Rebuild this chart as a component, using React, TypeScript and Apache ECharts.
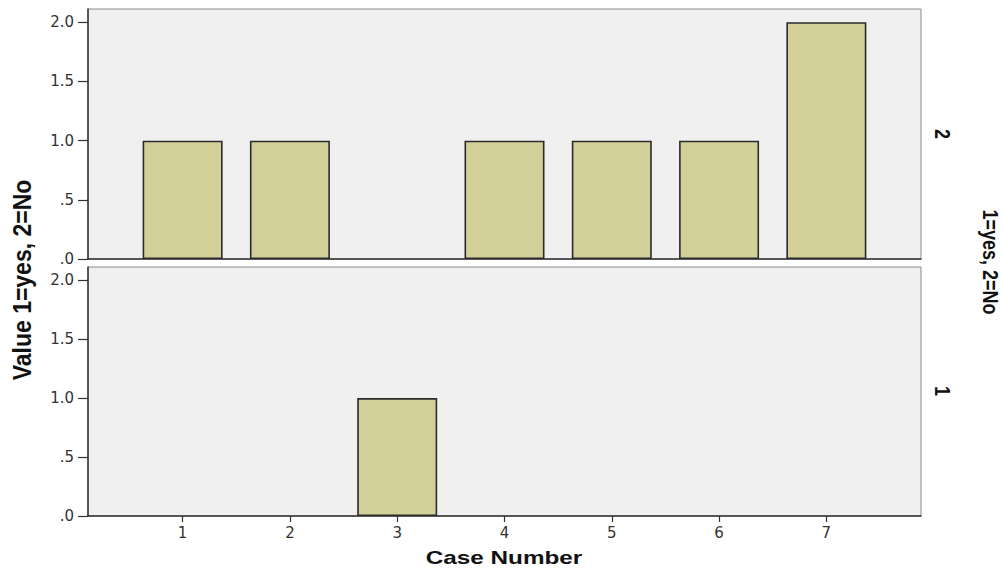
import React, { useEffect, useRef } from "react";
import * as echarts from "echarts";

const caseNumbers = [1, 2, 3, 4, 5, 6, 7];
const panel2Values: (number | null)[] = [1, 1, null, 1, 1, 1, 2];
const panel1Values: (number | null)[] = [null, null, 1, null, null, null, null];
const panelLabels = ["2", "1"];
const yTickValues = [0, 0.5, 1, 1.5, 2];
const yTickLabels = [".0", ".5", "1.0", "1.5", "2.0"];
const xTickValues = [1, 2, 3, 4, 5, 6, 7];
const yAxisTitle = "Value 1=yes, 2=No";
const panelTitle = "1=yes, 2=No";
const xAxisTitle = "Case Number";

const Y_MAX = 2.112;
const X_MIN = 0.118;
const X_MAX = 7.882;

function toPairs(vals: (number | null)[]) {
  const out: [number, number][] = [];
  caseNumbers.forEach((c, i) => {
    const v = vals[i];
    if (v !== null && v !== undefined) out.push([c, v]);
  });
  return out;
}

export default function App() {
  const ref = useRef<HTMLDivElement>(null);
  useEffect(() => {
    if (!ref.current) return;
    const chart = echarts.init(ref.current, null, { renderer: "svg" });
    const labelFont = { fontFamily: "DejaVu Sans", fontSize: 15, color: "#333" };
    const yAxisBase = (gi: number) => ({
      type: "value",
      gridIndex: gi,
      min: 0,
      max: Y_MAX,
      splitLine: { show: false },
      axisLine: { show: true, lineStyle: { color: "#333", width: 1.5 } },
      axisTick: {
        show: true,
        length: 10,
        customValues: yTickValues,
        lineStyle: { color: "#333", width: 1.2 },
      },
      axisLabel: {
        ...labelFont,
        margin: 14,
        customValues: yTickValues,
        formatter: (v: number) => {
          const idx = yTickValues.findIndex((t) => Math.abs(t - v) < 1e-6);
          return idx >= 0 ? yTickLabels[idx] : "";
        },
      },
    });
    const barStyle = {
      color: "#d3cf99",
      borderColor: "#2b2b2b",
      borderWidth: 1.6,
    };
    chart.setOption({
      animation: false,
      backgroundColor: "#ffffff",
      grid: [
        {
          left: 88,
          width: 833,
          top: 9,
          height: 250,
          show: true,
          backgroundColor: "#f0f0f0",
          borderColor: "#8a8a8a",
          borderWidth: 1,
        },
        {
          left: 88,
          width: 833,
          top: 267,
          height: 249,
          show: true,
          backgroundColor: "#f0f0f0",
          borderColor: "#8a8a8a",
          borderWidth: 1,
        },
      ],
      xAxis: [
        {
          type: "value",
          gridIndex: 0,
          min: X_MIN,
          max: X_MAX,
          splitLine: { show: false },
          axisLine: { show: true, lineStyle: { color: "#333", width: 1.5 } },
          axisTick: { show: false },
          axisLabel: { show: false },
        },
        {
          type: "value",
          gridIndex: 1,
          min: X_MIN,
          max: X_MAX,
          splitLine: { show: false },
          axisLine: { show: true, lineStyle: { color: "#333", width: 1.5 } },
          axisTick: {
            show: true,
            length: 6,
            customValues: xTickValues,
            lineStyle: { color: "#333", width: 1.2 },
          },
          axisLabel: {
            ...labelFont,
            margin: 9,
            customValues: xTickValues,
            formatter: (v: number) => String(v),
          },
        },
      ],
      yAxis: [yAxisBase(0), yAxisBase(1)],
      series: [
        {
          type: "bar",
          xAxisIndex: 0,
          yAxisIndex: 0,
          barWidth: 80,
          itemStyle: barStyle,
          data: toPairs(panel2Values),
        },
        {
          type: "bar",
          xAxisIndex: 1,
          yAxisIndex: 1,
          barWidth: 80,
          itemStyle: barStyle,
          data: toPairs(panel1Values),
        },
      ],
      graphic: [
        {
          type: "text",
          x: 22,
          y: 280,
          rotation: Math.PI / 2,
          scaleY: 1.1,
          style: {
            text: yAxisTitle,
            font: "bold 23px 'Liberation Sans', Arial, sans-serif",
            fill: "#111",
            textAlign: "center",
            textVerticalAlign: "middle",
          },
        },
        {
          type: "text",
          x: 991,
          y: 262,
          rotation: -Math.PI / 2,
          scaleY: 1.25,
          style: {
            text: panelTitle,
            font: "bold 18px 'Liberation Sans', Arial, sans-serif",
            fill: "#111",
            textAlign: "center",
            textVerticalAlign: "middle",
          },
        },
        {
          type: "text",
          x: 943,
          y: 134,
          rotation: -Math.PI / 2,
          scaleY: 1.25,
          style: {
            text: panelLabels[0],
            font: "bold 18px 'Liberation Sans', Arial, sans-serif",
            fill: "#111",
            textAlign: "center",
            textVerticalAlign: "middle",
          },
        },
        {
          type: "text",
          x: 943,
          y: 391,
          rotation: -Math.PI / 2,
          scaleY: 1.25,
          style: {
            text: panelLabels[1],
            font: "bold 18px 'Liberation Sans', Arial, sans-serif",
            fill: "#111",
            textAlign: "center",
            textVerticalAlign: "middle",
          },
        },
        {
          type: "text",
          x: 504,
          y: 558,
          scaleX: 1.35,
          style: {
            text: xAxisTitle,
            font: "bold 18px 'Liberation Sans', Arial, sans-serif",
            fill: "#111",
            textAlign: "center",
            textVerticalAlign: "middle",
          },
        },
      ],
    });
    return () => chart.dispose();
  }, []);
  return <div ref={ref} style={{ width: 1003, height: 569, position: "absolute", left: 0, top: 0 }} />;
}
